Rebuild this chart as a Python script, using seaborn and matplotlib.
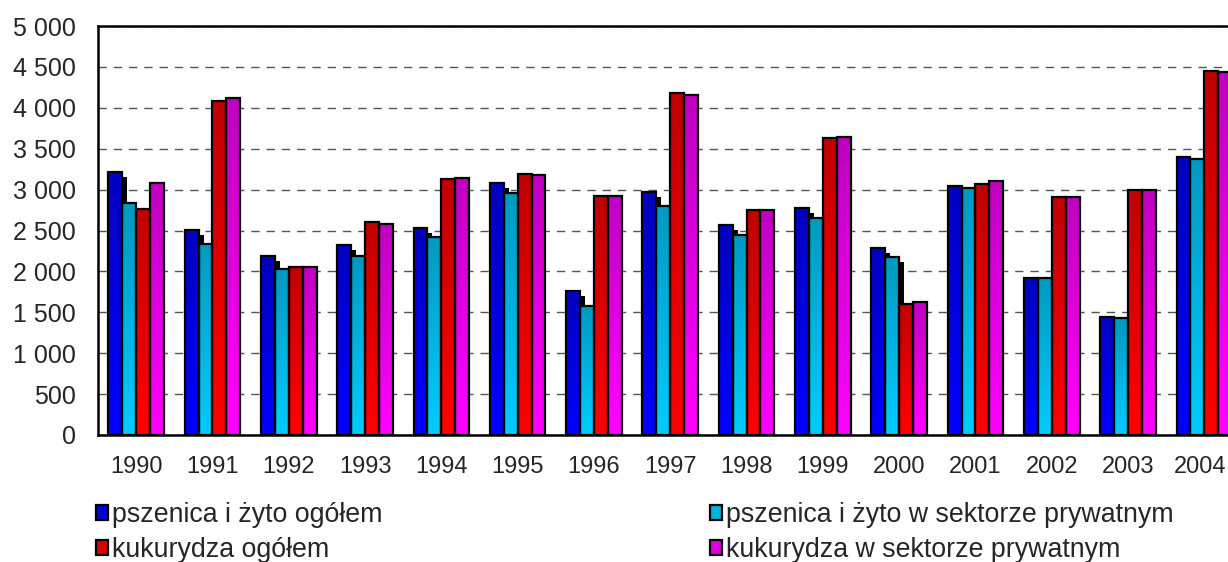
import numpy as np
import pandas as pd
import matplotlib
matplotlib.use("Agg")
import matplotlib.pyplot as plt
import matplotlib.transforms as mtransforms
from matplotlib.colors import LinearSegmentedColormap
from matplotlib.patches import Patch, Rectangle
import seaborn as sns

# ---- data -------------------------------------------------------------
years = [str(y) for y in range(1990, 2005)]
wheat_rye_total = [3210, 2510, 2190, 2325, 2535, 3085, 1765, 2970, 2565, 2775,
                   2285, 3040, 1925, 1440, 3400]
wheat_rye_private = [2840, 2335, 2025, 2185, 2425, 2960, 1575, 2800, 2440, 2655,
                     2175, 3020, 1920, 1425, 3375]
maize_total = [2760, 4080, 2050, 2605, 3135, 3185, 2925, 4180, 2755, 3635,
               1600, 3070, 2905, 2995, 4445]
maize_private = [3085, 4120, 2050, 2575, 3145, 3180, 2925, 4160, 2750, 3645,
                 1620, 3100, 2915, 3000, 4435]
series_labels = ["pszenica i żyto ogółem",
                 "pszenica i żyto w sektorze prywatnym",
                 "kukurydza ogółem",
                 "kukurydza w sektorze prywatnym"]
y_ticks = list(range(0, 5001, 500))

# ---- styling ----------------------------------------------------------
# (top colour, bottom colour) of the vertical gradient for each series
gradients = [("#0000c0", "#0000ff"),
             ("#0099c0", "#00ccff"),
             ("#c00000", "#ff0000"),
             ("#c000c0", "#ff00ff")]
legend_colors = ["#0000e0", "#00b0e0", "#d80000", "#e000e0"]
FS_Y = 18
FS_X = 17
FS_LEG = 19.3

sns.set_style("white")
plt.rcParams["font.family"] = ["Liberation Sans", "DejaVu Sans"]

df = pd.DataFrame({
    "rok": years * 4,
    "seria": sum([[s] * len(years) for s in series_labels], []),
    "wartosc": wheat_rye_total + wheat_rye_private + maize_total + maize_private,
})

W, H = 1228, 562
fig = plt.figure(figsize=(W / 100, H / 100), dpi=100)
ax = fig.add_axes([98 / W, 1 - 435 / H, 1144.5 / W, 409 / H])

sns.barplot(data=df, x="rok", y="wartosc", hue="seria", order=years,
            hue_order=series_labels, palette=legend_colors, width=0.73,
            dodge=True, errorbar=None, edgecolor="black", linewidth=1.6,
            legend=False, ax=ax)

# side shading of the columns, shifted right/down a few pixels
shadow_off = mtransforms.ScaledTranslation(5 / 100, -5 / 100, fig.dpi_scale_trans)
grad = np.linspace(1, 0, 256).reshape(-1, 1)
for i, cont in enumerate(ax.containers):
    cmap = LinearSegmentedColormap.from_list(f"g{i}", list(gradients[i]))
    for bar in cont:
        x, w, h = bar.get_x(), bar.get_width(), bar.get_height()
        if i < 3:
            sh = Rectangle((x, 0), w, h, facecolor="black", edgecolor="none",
                           transform=ax.transData + shadow_off, zorder=1.8)
            ax.add_patch(sh)
        im = ax.imshow(grad, extent=[x, x + w, 0, h], aspect="auto",
                       cmap=cmap, origin="lower", vmin=0, vmax=1,
                       interpolation="bilinear", zorder=2.2)
        im.set_clip_path(bar)
        bar.set_facecolor("none")
        bar.set_zorder(3)

ax.set_xlim(-0.5, len(years) - 0.5)
ax.set_ylim(0, 5000)

# y axis
ax.set_yticks(y_ticks)
ax.set_yticklabels([f"{v:,}".replace(",", " ") for v in y_ticks], fontsize=FS_Y)
ax.yaxis.grid(True, color="#555555", linestyle=(0, (6, 5)), linewidth=1.0)
ax.set_axisbelow(True)

# x axis: ticks between groups, labels at group centres
bounds = np.arange(-0.5, len(years))
ax.set_xticks(bounds, labels=[""] * len(bounds))
ax.set_xticks(np.arange(len(years)), labels=years, minor=True)
ax.tick_params(axis="x", which="minor", length=0, labelsize=FS_X, pad=15)
ax.tick_params(axis="x", which="major", direction="out", length=5,
               width=1.6, color="black")
ax.tick_params(axis="y", which="major", direction="out", length=7,
               width=1.6, color="black", pad=9)
# keep the last year label inside the canvas
last_lbl = ax.get_xticklabels(minor=True)[-1]
last_lbl.set_transform(last_lbl.get_transform() +
                       mtransforms.ScaledTranslation(-4 / 100, 0, fig.dpi_scale_trans))
ax.set_xlabel("")
ax.set_ylabel("")

for side in ["left", "top", "bottom", "right"]:
    ax.spines[side].set_visible(True)
    ax.spines[side].set_color("black")
    ax.spines[side].set_linewidth(1.8)

# legend in two columns below the plot
order = [0, 2, 1, 3]
handles = [Patch(facecolor=legend_colors[k], edgecolor="black", linewidth=1.6)
           for k in order]
labels = [series_labels[k] for k in order]
fig.legend(handles, labels, ncol=2, loc="upper left",
           bbox_to_anchor=(96 / W, 1 - 502 / H, (1174 - 96) / W, 0),
           mode="expand", frameon=False, fontsize=FS_LEG, handlelength=0.45,
           handleheight=0.45, handletextpad=0.15, labelspacing=0.33,
           borderaxespad=0, borderpad=0)

fig.savefig("out.png", dpi=100)
